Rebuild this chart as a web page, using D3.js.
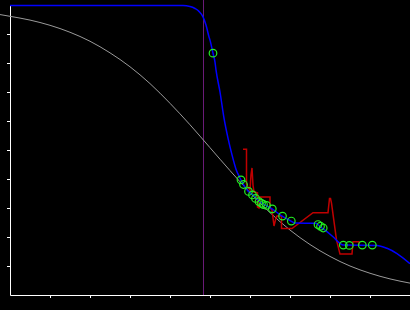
<!DOCTYPE html>
<html><head><meta charset="utf-8">
<script src="https://cdn.jsdelivr.net/npm/d3@7"></script>
<style>html,body{margin:0;padding:0;background:#000;overflow:hidden}</style>
</head><body>
<script>
// Reference curve (gray)
const grayX = [-0.25,0,0.5,1,1.5,2,2.5,3,3.5,4,4.5,5,5.5,6,6.5,7,7.5,8,8.5,9,9.5,10];
const grayY = [0.967,0.961,0.948,0.930,0.906,0.875,0.835,0.787,0.729,0.661,0.587,0.508,0.429,0.353,0.284,0.224,0.174,0.133,0.100,0.075,0.0555,0.041];
// Fitted curve (blue)
const blueX = [0,4.325,4.5,4.625,4.725,4.825,4.9,4.975,5.0,5.075,5.125,5.15,5.25,5.35,5.45,5.55,5.65,5.75,5.825,5.95,6.075,6.225,6.325,6.425,6.55,6.8,7.025,7.125,7.65,7.75,7.875,8.075,8.25,8.325,9.175,9.425,9.675,10];
const blueY = [0.998,0.998,0.995,0.988,0.978,0.959,0.931,0.890,0.879,0.834,0.803,0.776,0.700,0.610,0.541,0.483,0.434,0.403,0.383,0.359,0.345,0.324,0.314,0.307,0.297,0.272,0.255,0.248,0.247,0.236,0.224,0.201,0.178,0.172,0.171,0.161,0.143,0.108];
// Empirical line (red)
const redX = [5.825,5.9125,5.9125,5.95,6.0,6.025,6.05,6.075,6.1,6.1875,6.1875,6.225,6.25,6.5,6.5,6.55,6.6,6.65,6.675,6.7875,6.7875,7.05,7.575,7.95,7.9875,8.0125,8.0375,8.1625,8.25,8.55,8.575,8.725,8.725];
const redY = [0.503,0.503,0.383,0.372,0.362,0.414,0.438,0.379,0.355,0.352,0.303,0.300,0.338,0.338,0.300,0.293,0.238,0.266,0.272,0.272,0.229,0.229,0.284,0.284,0.333,0.333,0.317,0.190,0.141,0.141,0.184,0.184,0.169];
// Observations (green circles)
const pointX = [5.075,5.775,5.8375,5.9625,6.0625,6.1375,6.225,6.2875,6.3375,6.4125,6.5575,6.8125,7.0325,7.7,7.7625,7.83,8.3325,8.4825,8.8075,9.0575];
const pointY = [0.834,0.397,0.381,0.357,0.345,0.333,0.322,0.316,0.312,0.309,0.297,0.272,0.255,0.243,0.237,0.231,0.172,0.171,0.172,0.172];
// Vertical marker
const markerX = [4.8375];
// Ticks
const xTicks = [1,2,3,4,5,6,7,8,9];
const yTicks = [0.1,0.2,0.3,0.4,0.5,0.6,0.7,0.8,0.9];

const W = 410, H = 310;
const svg = d3.select("body").append("svg").attr("width", W).attr("height", H)
  .style("background", "#000").style("display","block");
const x = d3.scaleLinear().domain([0, 10]).range([10, 410]);
const y = d3.scaleLinear().domain([0, 1]).range([295, 5]);

// axes
svg.append("g").attr("transform", "translate(0,295)")
  .call(d3.axisBottom(x).tickValues(xTicks).tickSize(3).tickSizeOuter(0).tickFormat(""))
  .call(g => g.selectAll("path,line").attr("stroke", "#fff").attr("stroke-width", 1));
svg.append("g").attr("transform", "translate(10,0)")
  .call(d3.axisLeft(y).tickValues(yTicks).tickSize(3).tickSizeOuter(0).tickFormat(""))
  .call(g => g.selectAll("path,line").attr("stroke", "#fff").attr("stroke-width", 1));

// vertical marker
svg.selectAll(".marker").data(markerX).enter().append("line")
  .attr("x1", d => x(d)).attr("x2", d => x(d))
  .attr("y1", 0).attr("y2", y(0))
  .attr("stroke", "#6a1a78").attr("stroke-width", 1);

svg.append("path").datum(d3.zip(grayX, grayY))
  .attr("d", d3.line().x(d => x(d[0])).y(d => y(d[1])).curve(d3.curveMonotoneX)).attr("fill", "none")
  .attr("stroke", "#9a9a9a").attr("stroke-width", 1);

svg.append("path").datum(d3.zip(redX, redY))
  .attr("d", d3.line().x(d => x(d[0])).y(d => y(d[1]))).attr("fill", "none")
  .attr("stroke", "#c00000").attr("stroke-width", 1.5);

svg.append("path").datum(d3.zip(blueX, blueY))
  .attr("d", d3.line().x(d => x(d[0])).y(d => y(d[1])).curve(d3.curveMonotoneX)).attr("fill", "none")
  .attr("stroke", "#0000ff").attr("stroke-width", 1.5);

svg.selectAll(".pt").data(d3.zip(pointX, pointY)).enter().append("circle")
  .attr("cx", d => x(d[0])).attr("cy", d => y(d[1])).attr("r", 3.8)
  .attr("fill", "none").attr("stroke", "#22ee22").attr("stroke-width", 1.2);
</script>
</body></html>
